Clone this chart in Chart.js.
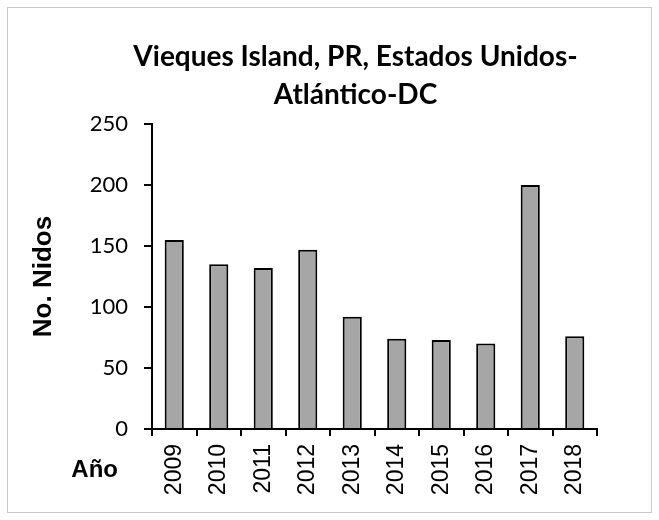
<!DOCTYPE html>
<html>
<head>
<meta charset="utf-8">
<script src="https://cdn.jsdelivr.net/npm/chart.js@4/dist/chart.umd.min.js"></script>
<style>
  html, body { margin: 0; padding: 0; background: #ffffff; }
  #frame { position: absolute; left: 7px; top: 7px; width: 643px; height: 504px; border: 1px solid #c8c8c8; background: #fff; }
  #frame canvas { display: block; }
</style>
</head>
<body>
<div id="frame"><canvas id="c"></canvas></div>
<script>
const categories = ['2009', '2010', '2011', '2012', '2013', '2014', '2015', '2016', '2017', '2018'];
const nests = [155, 135, 132, 147, 92, 74, 73, 70, 200, 76];
const titleLines = ['Vieques Island, PR, Estados Unidos-', 'Atlántico-DC'];
const yAxisTitle = 'No. Nidos';
const xAxisTitle = 'Año';
const yMin = 0, yMax = 250, yStep = 50;

const textPlugin = {
  id: 'extraText',
  afterDraw(chart) {
    const ctx = chart.ctx;
    const area = chart.chartArea;
    ctx.save();
    ctx.fillStyle = '#000';
    ctx.textBaseline = 'middle';
    // chart title
    ctx.font = 'bold 28px Lato';
    ctx.textAlign = 'center';
    const cx = (area.left + area.right) / 2 - 19;
    ctx.fillText(titleLines[0], cx, area.top - 67);
    ctx.fillText(titleLines[1], cx, area.top - 29);
    // x axis title at left
    ctx.font = 'bold 24px "Liberation Sans"';
    ctx.textAlign = 'right';
    ctx.fillText(xAxisTitle, area.left - 34, area.bottom + 41);
    ctx.restore();
  }
};

new Chart(document.getElementById('c'), {
  type: 'bar',
  data: {
    labels: categories,
    datasets: [{
      data: nests,
      backgroundColor: '#a6a6a6',
      borderColor: '#000000',
      borderWidth: 2,
      barPercentage: 0.43,
      categoryPercentage: 1.0
    }]
  },
  options: {
    responsive: true,
    maintainAspectRatio: false,
    animation: false,
    layout: { padding: { left: 16, right: 54, top: 116, bottom: 0 } },
    plugins: {
      legend: { display: false },
      tooltip: { enabled: false },
      title: { display: false }
    },
    scales: {
      x: {
        afterFit(scale) { scale.height = 83; },
        grid: { display: true, drawOnChartArea: false, drawTicks: true, tickLength: 7, color: '#000', lineWidth: 2, offset: true },
        border: { display: true, color: '#000', width: 2 },
        ticks: { color: '#000', font: { family: 'Liberation Sans', size: 23 }, minRotation: 90, maxRotation: 90, padding: 8, autoSkip: false }
      },
      y: {
        min: yMin, max: yMax,
        afterFit(scale) { scale.width = 128; },
        grid: { display: true, drawOnChartArea: false, drawTicks: true, tickLength: 8, color: '#000', lineWidth: 2 },
        border: { display: true, color: '#000', width: 2 },
        ticks: { stepSize: yStep, color: '#000', font: { family: 'Lato', size: 22 }, padding: 16 },
        title: { display: true, text: yAxisTitle, color: '#000', font: { family: 'Liberation Sans', size: 26, weight: 'bold' }, padding: { top: 4, bottom: 0 } }
      }
    }
  },
  plugins: [textPlugin]
});
</script>
</body>
</html>
